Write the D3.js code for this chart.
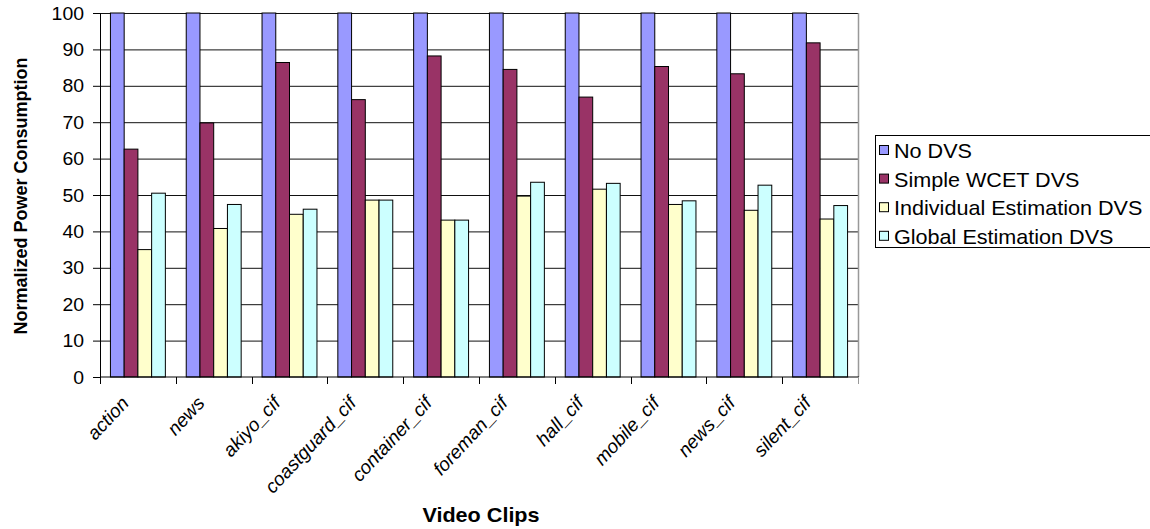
<!DOCTYPE html>
<html>
<head>
<meta charset="utf-8">
<script src="https://cdn.jsdelivr.net/npm/d3@7"></script>
<style>
  body { margin: 0; background: #fff; }
  text { font-family: "Liberation Sans", Arial, sans-serif; fill: #000; }
</style>
</head>
<body>
<svg id="chart"></svg>
<script>
// data
var clips = ["action", "news", "akiyo_cif", "coastguard_cif", "container_cif",
  "foreman_cif", "hall_cif", "mobile_cif", "news_cif", "silent_cif"];
var seriesNames = ["No DVS", "Simple WCET DVS", "Individual Estimation DVS", "Global Estimation DVS"];
var noDvs = [100, 100, 100, 100, 100, 100, 100, 100, 100, 100];
var simpleWcet = [62.6, 69.8, 86.4, 76.2, 88.2, 84.5, 76.9, 85.3, 83.3, 91.8];
var individualEst = [35.0, 40.8, 44.7, 48.6, 43.1, 49.7, 51.6, 47.4, 45.8, 43.4];
var globalEst = [50.5, 47.4, 46.1, 48.6, 43.1, 53.5, 53.2, 48.4, 52.7, 47.1];
var yTicks = [0, 10, 20, 30, 40, 50, 60, 70, 80, 90, 100];

var colors = ["#9999ff", "#993366", "#ffffcc", "#ccffff"];
var values = [noDvs, simpleWcet, individualEst, globalEst];

// set the dimensions of the graph
var width = 1150, height = 529;
var plot = { left: 100, right: 858, top: 13, bottom: 377 };
var sx = 1.08; // text in the original is slightly stretched sideways

var svg = d3.select("#chart")
  .attr("width", width)
  .attr("height", height);

// set the ranges
var x = d3.scaleBand().domain(clips).range([plot.left, plot.right]);
var xs = d3.scaleBand().domain(seriesNames).range([0, x.bandwidth()]).paddingOuter(0.76);
var y = d3.scaleLinear().domain([0, 100]).range([plot.bottom, plot.top]);

// gridlines
svg.append("g")
  .selectAll("line")
  .data(yTicks.filter(function(d) { return d > 0; }))
  .enter().append("line")
  .attr("x1", plot.left).attr("x2", plot.right)
  .attr("y1", function(d) { return y(d) + 0.5; })
  .attr("y2", function(d) { return y(d) + 0.5; })
  .attr("stroke", "#111")
  .attr("stroke-width", 1);

// right border of plot area
svg.append("line")
  .attr("x1", plot.right + 0.5).attr("x2", plot.right + 0.5)
  .attr("y1", plot.top).attr("y2", plot.bottom)
  .attr("stroke", "#999")
  .attr("stroke-width", 1.5);

// bars
var groups = svg.append("g")
  .selectAll("g")
  .data(clips)
  .enter().append("g")
  .attr("transform", function(d) { return "translate(" + x(d) + ",0)"; });

groups.selectAll("rect")
  .data(function(d, i) {
    return seriesNames.map(function(s, j) { return { s: s, j: j, v: values[j][i] }; });
  })
  .enter().append("rect")
  .attr("x", function(d) { return xs(d.s); })
  .attr("width", xs.bandwidth())
  .attr("y", function(d) { return y(d.v); })
  .attr("height", function(d) { return y(0) - y(d.v); })
  .attr("fill", function(d) { return colors[d.j]; })
  .attr("stroke", "#000")
  .attr("stroke-width", 1);

// Y axis
var yAxis = svg.append("g")
  .attr("transform", "translate(" + plot.left + ",0)")
  .call(d3.axisLeft(y).tickValues(yTicks).tickSize(7).tickPadding(0).tickFormat(d3.format("d")));
yAxis.select(".domain").attr("stroke", "#000");
yAxis.selectAll(".tick line").attr("stroke", "#000");
yAxis.selectAll(".tick text")
  .attr("font-size", "18px")
  .attr("font-family", null)
  .attr("x", null).attr("dy", null)
  .attr("text-anchor", "end")
  .attr("transform", "translate(-16,6) scale(" + sx + ",1)");

// X axis: ticks on category boundaries
var xAxis = svg.append("g")
  .attr("transform", "translate(0," + plot.bottom + ")");
xAxis.append("line")
  .attr("x1", plot.left).attr("x2", plot.right + 1)
  .attr("stroke", "#000");
xAxis.selectAll(".bt")
  .data(clips.concat(["end"]))
  .enter().append("line")
  .attr("class", "bt")
  .attr("x1", function(d, i) { return Math.round(plot.left + i * x.step()) + 0.5; })
  .attr("x2", function(d, i) { return Math.round(plot.left + i * x.step()) + 0.5; })
  .attr("y1", 0).attr("y2", 7)
  .attr("stroke", function(d, i) { return i === clips.length ? "#999" : "#000"; });

xAxis.selectAll(".lbl")
  .data(clips)
  .enter().append("text")
  .attr("class", "lbl")
  .attr("text-anchor", "end")
  .attr("font-size", "19px")
  .attr("font-style", "italic")
  .attr("transform", function(d) {
    return "translate(" + (x(d) + x.bandwidth() / 2 - 8) + ",27) rotate(-47)";
  })
  .text(function(d) { return d; });

// axis titles
svg.append("text")
  .attr("text-anchor", "middle")
  .attr("font-size", "20px")
  .attr("font-weight", "bold")
  .attr("transform", "translate(481,522) scale(" + sx + ",1)")
  .text("Video Clips");

svg.append("text")
  .attr("text-anchor", "middle")
  .attr("font-size", "18px")
  .attr("font-weight", "bold")
  .attr("transform", "translate(27,196) rotate(-90)")
  .text("Normalized Power Consumption");

// legend
var legend = svg.append("g");
legend.append("rect")
  .attr("x", 875.5).attr("y", 135.5)
  .attr("width", 300).attr("height", 112)
  .attr("fill", "#fff")
  .attr("stroke", "#000");

var items = legend.selectAll(".item")
  .data(seriesNames)
  .enter().append("g")
  .attr("class", "item")
  .attr("transform", function(d, i) { return "translate(0," + (151 + i * 28.6) + ")"; });

items.append("rect")
  .attr("x", 879.5).attr("y", -5.5)
  .attr("width", 9).attr("height", 9)
  .attr("fill", function(d, i) { return colors[i]; })
  .attr("stroke", "#000");

items.append("text")
  .attr("font-size", "20px")
  .attr("transform", "translate(894,7) scale(" + sx + ",1)")
  .text(function(d) { return d; });
</script>
</body>
</html>
